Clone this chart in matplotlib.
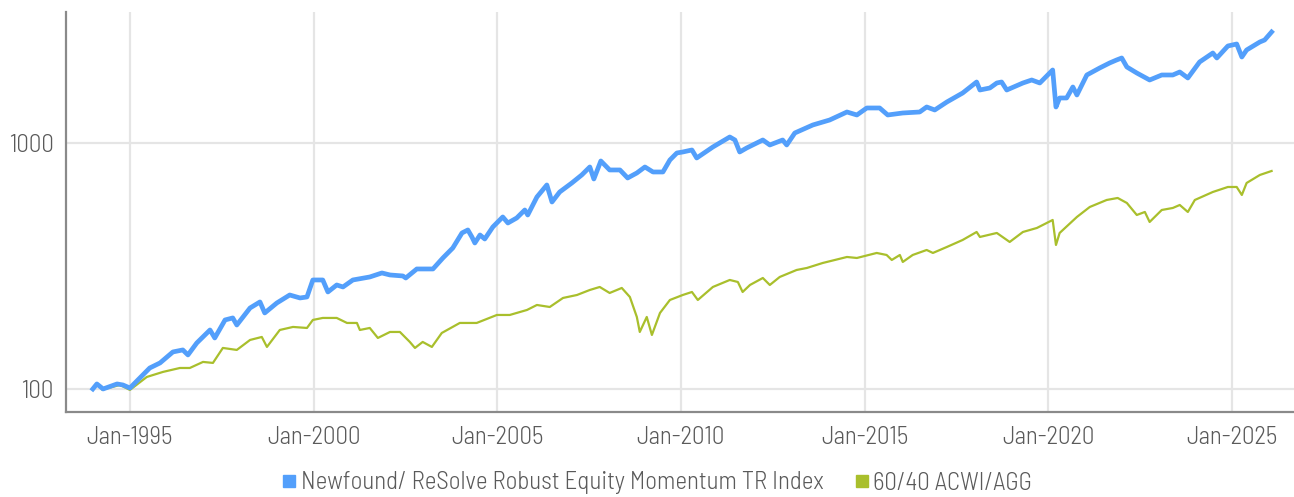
import matplotlib
matplotlib.use("Agg")
import matplotlib.pyplot as plt
from matplotlib.lines import Line2D

# ---------------- data (decimal years, index values) ----------------
blue_dates = [1993.99, 1994.10, 1994.27, 1994.65, 1994.81, 1995.00, 1995.54, 1995.82,
              1996.17, 1996.44, 1996.58, 1996.82, 1997.18, 1997.31, 1997.59, 1997.80,
              1997.91, 1998.27, 1998.54, 1998.67, 1999.00, 1999.35, 1999.63, 1999.82,
              1999.98, 2000.25, 2000.39, 2000.63, 2000.80, 2001.07, 2001.53, 2001.86,
              2002.08, 2002.43, 2002.51, 2002.81, 2003.25, 2003.52, 2003.79, 2004.04,
              2004.20, 2004.31, 2004.39, 2004.53, 2004.66, 2004.88, 2005.15, 2005.29,
              2005.53, 2005.75, 2005.83, 2006.08, 2006.35, 2006.49, 2006.70, 2007.03,
              2007.30, 2007.52, 2007.63, 2007.82, 2008.06, 2008.34, 2008.55, 2008.80,
              2009.02, 2009.24, 2009.51, 2009.70, 2009.89, 2010.05, 2010.30, 2010.43,
              2010.87, 2011.33, 2011.47, 2011.60, 2011.79, 2012.23, 2012.42, 2012.77,
              2012.88, 2013.10, 2013.59, 2014.05, 2014.52, 2014.79, 2015.06, 2015.41,
              2015.63, 2016.04, 2016.50, 2016.69, 2016.91, 2017.24, 2017.67, 2018.05,
              2018.14, 2018.41, 2018.60, 2018.73, 2018.87, 2019.31, 2019.55, 2019.77,
              2020.12, 2020.21, 2020.31, 2020.50, 2020.67, 2020.78, 2021.05, 2021.40,
              2021.67, 2021.86, 2022.00, 2022.14, 2022.41, 2022.76, 2023.09, 2023.39,
              2023.58, 2023.80, 2024.12, 2024.48, 2024.59, 2024.89, 2025.13, 2025.27,
              2025.40, 2025.76, 2025.89, 2026.08]
blue_values = [100, 104.8, 100, 104.8, 103.8, 100.9, 121.7, 127.6,
               141.4, 144.1, 137.5, 153.8, 173.7, 161.2, 190.8, 194.4,
               182.0, 213.4, 225.8, 203.7, 223.7, 241.0, 234.4, 236.6,
               277.4, 277.4, 247.9, 264.7, 259.8, 277.4, 285.3, 296.2,
               290.7, 288.0, 282.6, 307.5, 307.5, 340.8, 374.3, 430.7,
               443.0, 414.9, 392.2, 422.7, 407.1, 455.6, 500.3, 472.9,
               495.6, 534.1, 509.7, 603.2, 675.0, 575.6, 632.1, 687.7,
               741.2, 798.8, 713.9, 844.9, 776.8, 776.8, 720.7, 755.2,
               798.8, 762.3, 762.3, 852.9, 910.7, 919.2, 936.6, 869.0,
               963.2, 1057.7, 1028.5, 919.2, 954.3, 1028.5, 981.5, 1028.5,
               981.5, 1098.1, 1183.5, 1240.2, 1336.6, 1299.7, 1387.7, 1387.7,
               1299.7, 1324.2, 1336.6, 1400.7, 1362.0, 1467.7, 1596.7, 1769.9,
               1642.2, 1673.3, 1753.5, 1769.9, 1642.2, 1753.5, 1803.3, 1753.5,
               1980.5, 1400.7, 1523.8, 1523.8, 1689.1, 1567.2, 1889.9, 2017.8,
               2114.5, 2174.7, 2215.8, 2036.8, 1925.7, 1803.3, 1889.9, 1889.9,
               1943.8, 1837.7, 2134.4, 2321.9, 2215.8, 2479.2, 2526.0, 2236.6,
               2388.1, 2573.8, 2622.4, 2826.3]

green_dates = [1994.25, 1994.73, 1995.00, 1995.46, 1995.90, 1996.36, 1996.63, 1996.99,
               1997.26, 1997.53, 1997.91, 1998.27, 1998.59, 1998.73, 1999.08, 1999.44,
               1999.82, 1999.98, 2000.25, 2000.63, 2000.91, 2001.18, 2001.26, 2001.53,
               2001.75, 2002.08, 2002.35, 2002.62, 2002.76, 2002.97, 2003.22, 2003.49,
               2003.98, 2004.44, 2004.99, 2005.34, 2005.81, 2006.08, 2006.43, 2006.79,
               2007.17, 2007.52, 2007.79, 2008.06, 2008.39, 2008.61, 2008.80, 2008.88,
               2009.07, 2009.21, 2009.43, 2009.70, 2010.05, 2010.30, 2010.46, 2010.87,
               2011.33, 2011.55, 2011.68, 2011.88, 2012.23, 2012.42, 2012.69, 2013.15,
               2013.43, 2013.86, 2014.52, 2014.79, 2015.33, 2015.60, 2015.74, 2015.96,
               2016.04, 2016.31, 2016.69, 2016.86, 2017.24, 2017.67, 2018.05, 2018.14,
               2018.60, 2018.95, 2019.31, 2019.69, 2020.12, 2020.21, 2020.31, 2020.78,
               2021.13, 2021.59, 2021.89, 2022.14, 2022.41, 2022.63, 2022.76, 2023.09,
               2023.39, 2023.58, 2023.80, 2023.99, 2024.48, 2024.89, 2025.13, 2025.27,
               2025.40, 2025.76, 2026.08]
green_values = [99.5, 103.8, 99.1, 111.9, 117.3, 121.7, 121.7, 128.8,
                127.6, 146.8, 144.1, 158.2, 162.7, 148.2, 173.7, 178.7,
                177.0, 190.8, 194.4, 194.4, 185.5, 185.5, 173.7, 177.0,
                161.2, 170.5, 170.5, 155.3, 146.8, 155.3, 148.2, 168.9,
                185.5, 185.5, 199.9, 199.9, 209.5, 219.5, 215.4, 234.4,
                241.0, 252.6, 259.8, 245.6, 257.4, 236.6, 196.2, 170.5,
                196.2, 165.8, 203.7, 230.0, 241.0, 247.9, 230.0, 259.8,
                277.4, 272.2, 247.9, 264.7, 282.6, 264.7, 285.3, 304.6,
                310.4, 325.2, 344.0, 340.8, 357.2, 350.5, 334.5, 350.5,
                328.3, 350.5, 367.3, 357.2, 377.8, 403.4, 434.7, 414.9,
                430.7, 395.9, 434.7, 451.3, 486.4, 384.9, 430.7, 500.3,
                549.3, 586.5, 597.6, 570.3, 509.7, 524.2, 477.4, 534.1,
                544.2, 559.7, 524.2, 586.5, 632.1, 662.4, 662.4, 614.7,
                687.7, 741.2, 769.4]

series_labels = ["Newfound/ ReSolve Robust Equity Momentum TR Index", "60/40 ACWI/AGG"]
x_tick_years = [1995, 2000, 2005, 2010, 2015, 2020, 2025]
x_tick_labels = ["Jan-1995", "Jan-2000", "Jan-2005", "Jan-2010", "Jan-2015", "Jan-2020", "Jan-2025"]
y_ticks = [100, 1000]
y_tick_labels = ["100", "1000"]

# ---------------- style ----------------
BLUE = "#539ffb"
GREEN = "#a9bf2c"
TEXT = "#5a5a5a"
GRID = "#e5e5e5"
SPINE = "#8a8a8a"

plt.rcParams["font.family"] = ["Barlow Semi Condensed", "DejaVu Sans"]
plt.rcParams["font.weight"] = 300

W, H = 1294, 497
fig = plt.figure(figsize=(W / 100, H / 100), dpi=100)
ax = fig.add_axes([66 / W, 1 - 412 / H, (W - 66) / W, 400 / H])

ax.plot(green_dates, green_values, color=GREEN, lw=1.6, solid_joinstyle="round", zorder=3)
ax.plot(blue_dates, blue_values, color=BLUE, lw=3.4, solid_joinstyle="round", zorder=4)

ax.set_yscale("log")
ax.set_ylim(80.6, 3408)
ax.set_xlim(1993.26, 2026.69)

ax.set_yticks(y_ticks)
ax.set_yticklabels(y_tick_labels)
ax.yaxis.set_minor_locator(matplotlib.ticker.NullLocator())
ax.set_xticks(x_tick_years)
ax.set_xticklabels(x_tick_labels)

ax.tick_params(axis="both", length=0, labelsize=18, colors=TEXT)
ax.tick_params(axis="y", pad=9)
ax.tick_params(axis="x", pad=10)

ax.grid(True, color=GRID, lw=1.6)
ax.set_axisbelow(True)

for s in ["top", "right"]:
    ax.spines[s].set_visible(False)
for s in ["left", "bottom"]:
    ax.spines[s].set_color(SPINE)
    ax.spines[s].set_linewidth(1.6)

handles = [Line2D([], [], marker="s", linestyle="none", color=BLUE, markersize=9),
           Line2D([], [], marker="s", linestyle="none", color=GREEN, markersize=9)]
fig.legend(handles, series_labels, loc="center", bbox_to_anchor=(657 / W, 1 - 483 / H),
           ncol=2, frameon=False, fontsize=18, labelcolor=TEXT,
           handlelength=0.6, handletextpad=0.15, columnspacing=1.25, borderpad=0)

fig.savefig("out.png", dpi=100)
